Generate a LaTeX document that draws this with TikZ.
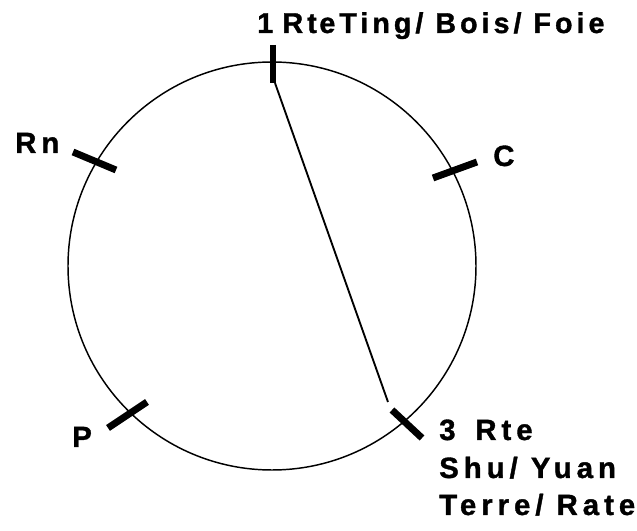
\documentclass[tikz,border=0pt]{standalone}
\usepackage{fontspec}
\setmainfont{Liberation Sans}
\newfontfamily\lblfont[LetterSpace=17,FakeBold=1.2]{Liberation Sans Bold}
\newfontfamily\topfont[LetterSpace=14,FakeBold=1.2]{Liberation Sans Bold}
\begin{document}
\begin{tikzpicture}[x=0.75pt,y=-0.75pt,
  ring/.style={line width=1.1pt},
  chord/.style={line width=1.4pt},
  tick/.style={line width=5.2pt},
  lbl/.style={font=\lblfont\fontsize{22}{26}\selectfont, anchor=base west, inner sep=0pt}]
\useasboundingbox (0,0) rectangle (637,531);
\coordinate (ctr) at (272,266);
\draw[ring] (ctr) circle[radius=204];
% ticks
\coordinate (t1a) at (273,45);  \coordinate (t1b) at (273,83);
\coordinate (rna) at (73,152);  \coordinate (rnb) at (116,170);
\coordinate (ca)  at (433,178); \coordinate (cb)  at (477,162);
\coordinate (pa)  at (108,428); \coordinate (pb)  at (147,402);
\coordinate (t3a) at (392,410); \coordinate (t3b) at (422,438);
\draw[tick] (t1a) -- (t1b);
\draw[tick] (rna) -- (rnb);
\draw[tick] (ca) -- (cb);
\draw[tick] (pa) -- (pb);
\draw[tick] (t3a) -- (t3b);
% chord
\coordinate (chA) at (275,83);
\coordinate (chB) at (388,402);
\draw[chord] (chA) -- (chB);
% labels
\node[lbl, font=\topfont\fontsize{21.5}{25}\selectfont] (l1) at (257,33) {1\kern-2pt{} Rt\kern2pt eTing/ Bois/ Foie};
\node[lbl] (lrn) at (15,153) {Rn};
\node[lbl] (lc) at (493,166) {C};
\node[lbl] (lp) at (72,447) {P};
\node[lbl] (l3a) at (439,440) {3\kern5pt{} Rte};
\node[lbl] (l3b) at (439,478) {Shu/ Yuan};
\node[lbl] (l3c) at (439,515) {Terre/ Rate};
\end{tikzpicture}
\end{document}
